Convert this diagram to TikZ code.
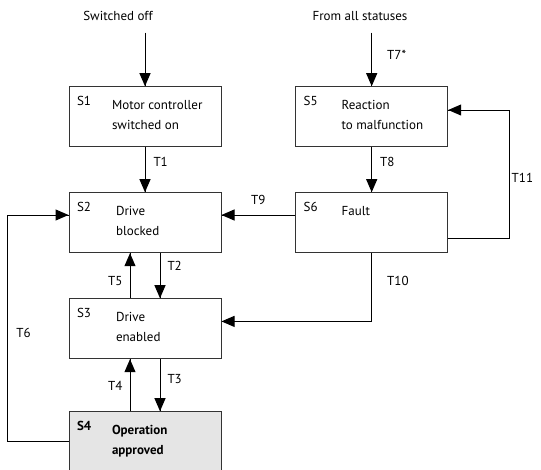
\documentclass[tikz,border=0pt]{standalone}
\usepackage{fontspec}
\setmainfont{PT Sans}
\tikzset{->/.style = {decoration={markings, mark=at position 1 with {\arrow[scale=1]{Triangle[length=13pt,width=11pt]}}}, postaction={decorate}}}
\usetikzlibrary{calc,arrows.meta,
                 decorations.markings}

\begin{document}
\begin{tikzpicture}[x=1pt, y=-1pt, line width=1pt,
    every node/.style={font=\fontsize{13}{20}\selectfont},
    state/.style={draw=black!80, minimum width=152pt, minimum height=60pt, inner sep=0pt},
    snum/.style={anchor=base west, inner sep=0pt},
    stext/.style={anchor=north west, inner sep=0pt, align=left},
    tlabel/.style={inner sep=1pt}]
      \useasboundingbox (0,0) rectangle (541,469);
      \clip (0,0) rectangle (541,469);
      % states
      \node [state] (s1) at (145,116.7) {};
      \node [state] (s2) at (145,222.7) {};
      \node [state] (s3) at (145,328.7) {};
      \node [state, fill=black!10] (s4) at (145,441.7) {};
      \node [state] (s5) at (371.7,116.7) {};
      \node [state] (s6) at (371.7,222.7) {};
      \node [snum] (n1) at ($(s1.north west)+(8,19)$) {S1};
      \node [stext] (l1) at ($(s1.north west)+(43,13.5)$) {Motor controller\\switched on};
      \node [snum] (n2) at ($(s2.north west)+(8,19)$) {S2};
      \node [stext] (l2) at ($(s2.north west)+(47,13.5)$) {Drive\\blocked};
      \node [snum] (n3) at ($(s3.north west)+(8,19)$) {S3};
      \node [stext] (l3) at ($(s3.north west)+(47,13.5)$) {Drive\\enabled};
      \node [snum, font=\fontsize{13}{20}\selectfont\bfseries] (n4) at ($(s4.north west)+(8,19)$) {S4};
      \node [stext, font=\fontsize{13}{20}\selectfont\bfseries] (l4) at ($(s4.north west)+(43,13.5)$) {Operation\\approved};
      \node [snum] (n5) at ($(s5.north west)+(8,19)$) {S5};
      \node [stext] (l5) at ($(s5.north west)+(46,13.5)$) {Reaction\\to malfunction};
      \node [snum] (n6) at ($(s6.north west)+(8,19)$) {S6};
      \node [stext] (l6) at ($(s6.north west)+(46,13.5)$) {Fault};
      % inputs
      \coordinate (off) at ($(s1.north)+(0,-53.7)$);
      \node (toff) at (118,16) {Switched off};
      \draw [->] (off) -- (s1.north);
      \coordinate (all) at ($(s5.north)+(0,-53.7)$);
      \node (tall) at (360,16) {From all statuses};
      \draw [->] (all) -- (s5.north) node [tlabel, pos = 0.41, right = 14pt] (t7) {T7*};
      % transitions
      \draw [->] (s1.south) -- (s2.north) node [tlabel, pos = 0.33, right = 7pt] (t1) {T1};
      \draw [->] ([xshift=15pt]s2.south) -- ([xshift=15pt]s3.north) node [tlabel, pos = 0.29, right = 6pt] (t2) {T2};
      \draw [->] ([xshift=-15pt]s3.north) -- ([xshift=-15pt]s2.south) node [tlabel, pos = 0.38, left = 6pt] (t5) {T5};
      \draw [->] ([xshift=15pt]s3.south) -- ([xshift=15pt]s4.north) node [tlabel, pos = 0.38, right = 6pt] (t3) {T3};
      \draw [->] ([xshift=-15pt]s4.north) -- ([xshift=-15pt]s3.south) node [tlabel, pos = 0.49, left = 6pt] (t4) {T4};
      \draw [->] (s4.west) -- ++(-60.7,0) |- node [tlabel, pos = 0.24, right = 7pt] (t6) {T6} ([yshift=7.7pt]s2.west);
      \draw [->] (s5.south) -- (s6.north) node [tlabel, pos = 0.33, right = 7pt] (t8) {T8};
      \draw [->] ([yshift=7.7pt]s6.west) -- ([yshift=7.7pt]s2.east) node [tlabel, pos = 0.5, above = 9pt] (t9) {T9};
      \draw [->] (s6.south) |- node [tlabel, pos = 0.2, right = 14pt] (t10) {T10} ([yshift=7.3pt]s3.east);
      \draw [->] ([yshift=-15.6pt]s6.east) -- ++(61,0) |- node [tlabel, pos = 0.235, right = 1pt] (t11) {T11} ([yshift=6.7pt]s5.east);
    \end{tikzpicture}
\end{document}
